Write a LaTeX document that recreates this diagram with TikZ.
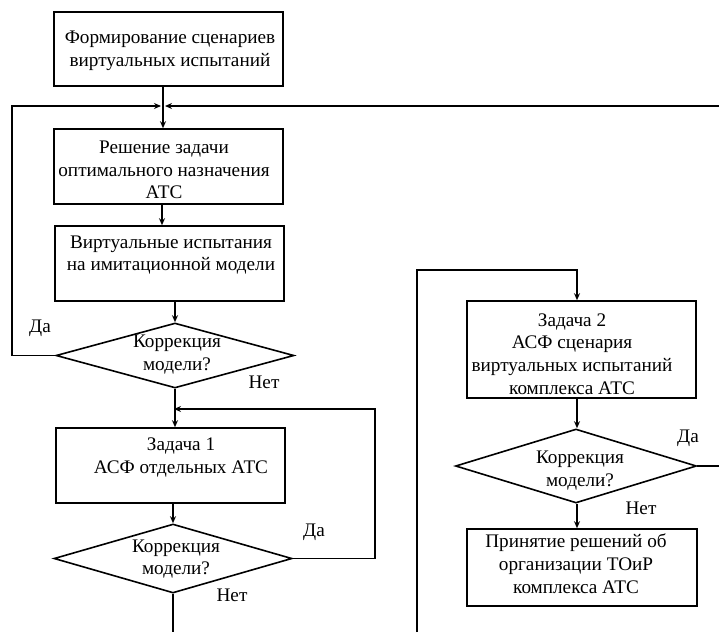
\documentclass[tikz,border=0pt]{standalone}
\usepackage{fontspec}
\setmainfont{Liberation Serif}
\usetikzlibrary{arrows.meta,shapes.geometric}
\begin{document}
\begin{tikzpicture}[x=1pt,y=-1pt,
  line width=1.6pt,
  box/.style={draw,rectangle,inner sep=0pt,minimum width=229pt},
  dia/.style={draw,diamond,inner sep=0pt},
  txt/.style={align=center,font=\fontsize{19.2}{22.8}\selectfont,inner sep=0pt},
  lbl/.style={font=\fontsize{19.2}{22.8}\selectfont,inner sep=0pt},
  arr/.style={-{Stealth[length=7pt,width=6pt]}}]
\useasboundingbox (0,0) rectangle (719,632);
% boxes
\node[box,minimum height=74pt] (b1) at (168.5,49) {};
\node[box,minimum height=75pt] (b2) at (168.5,166.5) {};
\node[box,minimum height=75pt] (b3) at (169.5,263.5) {};
\node[dia,minimum width=238pt,minimum height=65pt] (d1) at (175,355.5) {};
\node[box,minimum height=75pt] (b4) at (170.5,465.5) {};
\node[dia,minimum width=238pt,minimum height=69pt] (d2) at (173,558.5) {};
\node[box,minimum height=97pt] (b5) at (581.5,349.5) {};
\node[dia,minimum width=241pt,minimum height=74pt] (d3) at (576,466) {};
\node[box,minimum width=230pt,minimum height=77pt] (b6) at (582,567.5) {};
% texts
\node[txt] (t1) at (170,51) {Формирование сценариев\\виртуальных испытаний};
\node[txt] (t2) at (164,170) {Решение задачи\\оптимального назначения\\АТС};
\node[txt] (t3) at (171,255) {Виртуальные испытания\\на имитационной модели};
\node[txt] (t4) at (181,457.5) {Задача 1\\АСФ отдельных АТС};
\node[txt] (t5) at (572,354) {Задача 2\\АСФ сценария\\виртуальных испытаний\\комплекса АТС};
\node[txt] (t6) at (576,564) {Принятие решений об\\организации ТОиР\\комплекса АТС};
\node[txt] (td1) at (177,354.5) {Коррекция\\модели?};
\node[txt] (td2) at (176,559) {Коррекция\\модели?};
\node[txt] (td3) at (580,470.5) {Коррекция\\модели?};
% labels
\node[lbl] (da1) at (40,328) {Да};
\node[lbl] (net1) at (264,382) {Нет};
\node[lbl] (da2) at (314,532) {Да};
\node[lbl] (net2) at (232,595) {Нет};
\node[lbl] (da3) at (688,438) {Да};
\node[lbl] (net3) at (641,508) {Нет};
% coordinates
\coordinate (J) at (163,106);
\coordinate (Jl) at (161,106);
\coordinate (Jr) at (165,106);
\coordinate (L) at (12,355.5);
\coordinate (E1) at (719,106);
\coordinate (R1) at (375,409);
\coordinate (T1) at (174,409);
\coordinate (E3) at (173,632);
\coordinate (E2) at (417,632);
\coordinate (C5) at (577,270);
\coordinate (E4) at (719,466);
% connectors
\draw (b1.south -| J) -- (J);
\draw[arr] (J) -- (b2.north -| J);
\draw[arr] (d1.west) -- (L) |- (Jl);
\draw[arr] (E1) -- (Jr);
\draw[arr] (b2.south -| 162,0) -- (b3.north -| 162,0);
\draw[arr] (b3.south -| d1.north) -- (d1.north);
\draw[arr] (d1.south) -- (b4.north -| d1.south);
\draw[arr] (b4.south -| d2.north) -- (d2.north);
\draw[arr] (d2.east) -| (R1) -- (T1);
\draw (d2.south) -- (E3);
\draw[arr] (E2) |- (C5) -- (b5.north -| C5);
\draw[arr] (b5.south -| C5) -- (d3.north -| C5);
\draw[arr] (d3.south -| C5) -- (b6.north -| C5);
\draw (d3.east) -- (E4);
\end{tikzpicture}
\end{document}
